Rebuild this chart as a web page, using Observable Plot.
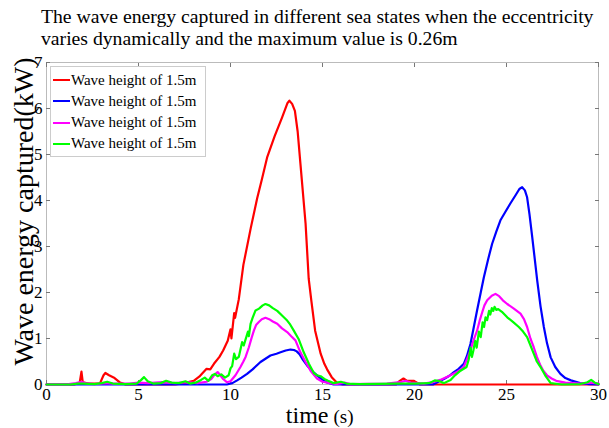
<!DOCTYPE html>
<html>
<head>
<meta charset="utf-8">
<script src="https://cdn.jsdelivr.net/npm/d3@7"></script>
<script src="https://cdn.jsdelivr.net/npm/@observablehq/plot@0.6"></script>
<style>
  html, body { margin: 0; padding: 0; background: #fff; }
  #wrap { position: relative; width: 609px; height: 428px; font-family: 'Liberation Serif', serif; }
  #title { position: absolute; left: 41px; top: 5px; font-family: 'Liberation Serif', serif; font-size: 19.7px; line-height: 22px; color: #000; white-space: nowrap; }
  #chart { position: absolute; left: 0; top: 52px; }
  #legend { position: absolute; left: 50px; top: 66px; width: 156px; height: 91px; background: #fff; border: 1px solid #ccc; box-sizing: border-box; font-size: 15px; font-family: 'Liberation Serif', serif; }
  .row { position: absolute; left: 2px; height: 20px; display: flex; align-items: center; white-space: nowrap; }
  .sw { width: 17px; height: 2px; margin-right: 1px; }
</style>
</head>
<body>
<div id="wrap">
  <div id="title">The wave energy captured in different sea states when the eccentricity<br>varies dynamically and the maximum value is 0.26m</div>
  <div id="chart"></div>
  <div id="legend"></div>
</div>
<script>
const seriesNames = ["Wave height of 1.5m", "Wave height of 1.5m", "Wave height of 1.5m", "Wave height of 1.5m"];
const seriesColors = ["#ff0000", "#0000ff", "#ff00ff", "#00ff00"];
const xTicks = [0, 5, 10, 15, 20, 25, 30];
const yTicks = [0, 1, 2, 3, 4, 5, 6, 7];

const red = [[0,0],[1.5,0],[1.8,0.03],[1.9,0.28],[1.97,0.05],[2.3,0.02],[2.9,0.02],[3.1,0.2],[3.2,0.25],[3.4,0.2],[3.7,0.14],[4.0,0.04],[4.3,0],[7.0,0],[7.5,0.03],[8.0,0.08],[8.3,0.17],[8.7,0.34],[8.9,0.33],[9.1,0.45],[9.4,0.6],[9.6,0.74],[9.85,0.95],[10.0,1.2],[10.05,1.0],[10.2,1.55],[10.25,1.45],[10.45,1.85],[10.7,2.6],[11.1,3.4],[11.45,4.05],[11.7,4.45],[12.0,4.95],[12.4,5.4],[12.8,5.8],[13.1,6.12],[13.2,6.17],[13.35,6.1],[13.5,5.95],[13.65,5.5],[13.8,4.8],[14.08,3.5],[14.25,2.3],[14.4,1.8],[14.6,1.17],[14.9,0.67],[15.1,0.45],[15.25,0.33],[15.5,0.16],[15.8,0.03],[16.1,0],[19.0,0],[19.2,0.08],[19.4,0.13],[19.6,0.08],[19.95,0.08],[20.3,0],[30,0]];

const blue = [[0,0],[9.8,0],[10.1,0.03],[10.36,0.09],[10.6,0.15],[10.9,0.23],[11.2,0.33],[11.63,0.49],[11.9,0.56],[12.17,0.63],[12.5,0.67],[12.72,0.7],[13.0,0.74],[13.26,0.76],[13.45,0.75],[13.6,0.72],[13.75,0.66],[13.9,0.56],[14.17,0.41],[14.5,0.27],[14.9,0.13],[15.2,0.05],[15.6,0],[21.0,0],[21.3,0.06],[21.6,0.12],[21.9,0.19],[22.14,0.27],[22.4,0.34],[22.68,0.45],[22.85,0.62],[23.04,0.88],[23.2,1.2],[23.4,1.61],[23.6,2.0],[23.77,2.33],[24.0,2.72],[24.22,3.06],[24.45,3.33],[24.67,3.57],[24.95,3.76],[25.2,3.93],[25.5,4.12],[25.7,4.25],[25.85,4.29],[26.0,4.22],[26.12,4.07],[26.25,3.7],[26.4,3.2],[26.67,2.26],[26.85,1.7],[27.03,1.25],[27.2,0.9],[27.4,0.59],[27.65,0.38],[27.93,0.23],[28.2,0.14],[28.5,0.09],[29.0,0.03],[29.5,0.01],[30,0]];

const magenta = [[0,0],[1.2,0.01],[1.6,0.03],[1.9,0.06],[2.1,0.03],[2.6,0.01],[3.2,0.03],[3.6,0.02],[4.5,0.02],[5.0,0.04],[5.5,0.03],[6.3,0.05],[7.0,0.03],[7.6,0.05],[8.2,0.03],[8.7,0.06],[8.95,0.12],[9.15,0.22],[9.3,0.27],[9.45,0.2],[9.6,0.12],[9.8,0.05],[10.0,0.07],[10.27,0.2],[10.54,0.38],[10.7,0.5],[10.82,0.6],[11.0,0.81],[11.15,1.02],[11.27,1.17],[11.4,1.3],[11.54,1.36],[11.7,1.42],[11.9,1.45],[12.1,1.42],[12.3,1.37],[12.54,1.32],[12.8,1.22],[13.08,1.14],[13.3,1.05],[13.53,0.96],[13.8,0.7],[14.08,0.49],[14.35,0.3],[14.7,0.13],[15.0,0.06],[15.4,0.03],[15.8,0.01],[16.2,0.04],[16.5,0.01],[18.5,0.02],[19.2,0.05],[19.5,0.08],[19.8,0.04],[20.5,0.02],[21.0,0.05],[21.4,0.1],[21.96,0.2],[22.3,0.27],[22.68,0.38],[22.85,0.55],[23.04,0.74],[23.2,0.95],[23.4,1.17],[23.55,1.4],[23.68,1.57],[23.8,1.72],[23.95,1.83],[24.2,1.93],[24.4,1.97],[24.6,1.92],[24.8,1.83],[25.04,1.75],[25.4,1.65],[25.76,1.54],[25.95,1.42],[26.12,1.25],[26.3,1.0],[26.48,0.81],[26.65,0.6],[26.85,0.41],[27.0,0.3],[27.2,0.2],[27.45,0.13],[27.7,0.08],[28.2,0.04],[29,0.02],[29.6,0.04],[30,0.02]];

const green = [[0,0],[1.3,0],[1.7,0.02],[2.0,0.02],[2.6,0.01],[3.0,0.03],[3.3,0.06],[3.6,0.02],[4.3,0.01],[4.9,0.02],[5.15,0.1],[5.3,0.16],[5.5,0.07],[5.8,0.02],[6.2,0.03],[6.5,0.08],[6.8,0.04],[7.2,0.03],[7.55,0.07],[7.8,0.02],[8.1,0.04],[8.4,0.1],[8.6,0.15],[8.8,0.08],[9.0,0.2],[9.15,0.23],[9.3,0.18],[9.5,0.22],[9.7,0.15],[9.9,0.2],[10.0,0.35],[10.09,0.4],[10.2,0.67],[10.3,0.55],[10.45,0.6],[10.63,0.92],[10.72,0.85],[10.82,0.98],[10.95,1.15],[11.0,1.05],[11.09,1.32],[11.2,1.45],[11.36,1.61],[11.55,1.65],[11.75,1.72],[11.9,1.75],[12.1,1.72],[12.3,1.66],[12.54,1.6],[12.8,1.5],[13.08,1.39],[13.25,1.3],[13.44,1.17],[13.7,0.99],[13.98,0.7],[14.26,0.45],[14.53,0.25],[14.7,0.2],[14.9,0.18],[15.1,0.12],[15.3,0.08],[15.6,0.03],[16.0,0.06],[16.3,0.02],[17,0.01],[19,0.02],[20,0.02],[20.8,0.03],[21.1,0.09],[21.3,0.08],[21.6,0.03],[21.96,0.1],[22.2,0.2],[22.5,0.3],[22.83,0.38],[22.95,0.55],[23.05,0.8],[23.12,0.6],[23.2,0.74],[23.3,0.95],[23.38,0.8],[23.5,1.15],[23.6,1.03],[23.7,1.35],[23.78,1.25],[23.86,1.46],[23.95,1.4],[24.05,1.6],[24.12,1.52],[24.2,1.66],[24.28,1.6],[24.35,1.69],[24.45,1.62],[24.55,1.64],[24.75,1.58],[25.04,1.46],[25.35,1.36],[25.67,1.25],[25.9,1.15],[26.12,1.03],[26.3,0.85],[26.48,0.67],[26.65,0.5],[26.85,0.38],[27.1,0.2],[27.4,0.03],[28,0],[29,0.01],[29.4,0.05],[29.6,0.1],[29.8,0.04],[30,0.01]];

const allSeries = [red, blue, magenta, green];
const serif = "'Liberation Serif', serif";

const lineMarks = allSeries.map((s, i) =>
  Plot.line(s, {x: d => d[0], y: d => d[1], stroke: seriesColors[i], strokeWidth: 2.2, curve: "linear"})
);

const chart = Plot.plot({
  width: 609,
  height: 376,
  marginTop: 10,
  marginBottom: 44,
  marginLeft: 46,
  marginRight: 11,
  style: {fontFamily: serif, fontSize: "17px", background: "#fff", color: "#000"},
  x: {domain: [0, 30]},
  y: {domain: [0, 7]},
  marks: [
    Plot.frame({stroke: "#bbb"}),
    Plot.axisX({ticks: xTicks, tickSize: -4, tickPadding: 7, tickFormat: d => d, label: null, stroke: "#777", fill: "#000", fontSize: 17}),
    Plot.axisX({anchor: "top", ticks: xTicks, tickSize: -4, tickFormat: () => "", label: null, stroke: "#777"}),
    Plot.axisY({ticks: yTicks, tickSize: -4, tickPadding: 8, tickFormat: d => d, label: null, stroke: "#777", fill: "#000", fontSize: 17}),
    Plot.axisY({anchor: "right", ticks: yTicks, tickSize: -4, tickFormat: () => "", label: null, stroke: "#777"}),
    ...lineMarks,
    Plot.text(["time"], {text: d => d, frameAnchor: "bottom", textAnchor: "end", lineAnchor: "bottom", dx: 6, dy: 38, fontSize: 24, fill: "#000"}),
    Plot.text(["(s)"], {text: d => d, frameAnchor: "bottom", textAnchor: "start", lineAnchor: "bottom", dx: 11, dy: 38, fontSize: 19, fill: "#000"}),
    Plot.text(["Wave energy captured(kW)"], {text: d => d, frameAnchor: "left", textAnchor: "middle", rotate: -90, dx: -22, dy: -12, fontSize: 28, fill: "#000"})
  ]
});
document.getElementById("chart").appendChild(chart);

const legend = document.getElementById("legend");
seriesNames.forEach((name, i) => {
  const row = document.createElement("div");
  row.className = "row";
  row.style.top = (3 + i * 21.3) + "px";
  const sw = document.createElement("span");
  sw.className = "sw";
  sw.style.background = seriesColors[i];
  const tx = document.createElement("span");
  tx.textContent = name;
  row.appendChild(sw);
  row.appendChild(tx);
  legend.appendChild(row);
});
</script>
</body>
</html>
